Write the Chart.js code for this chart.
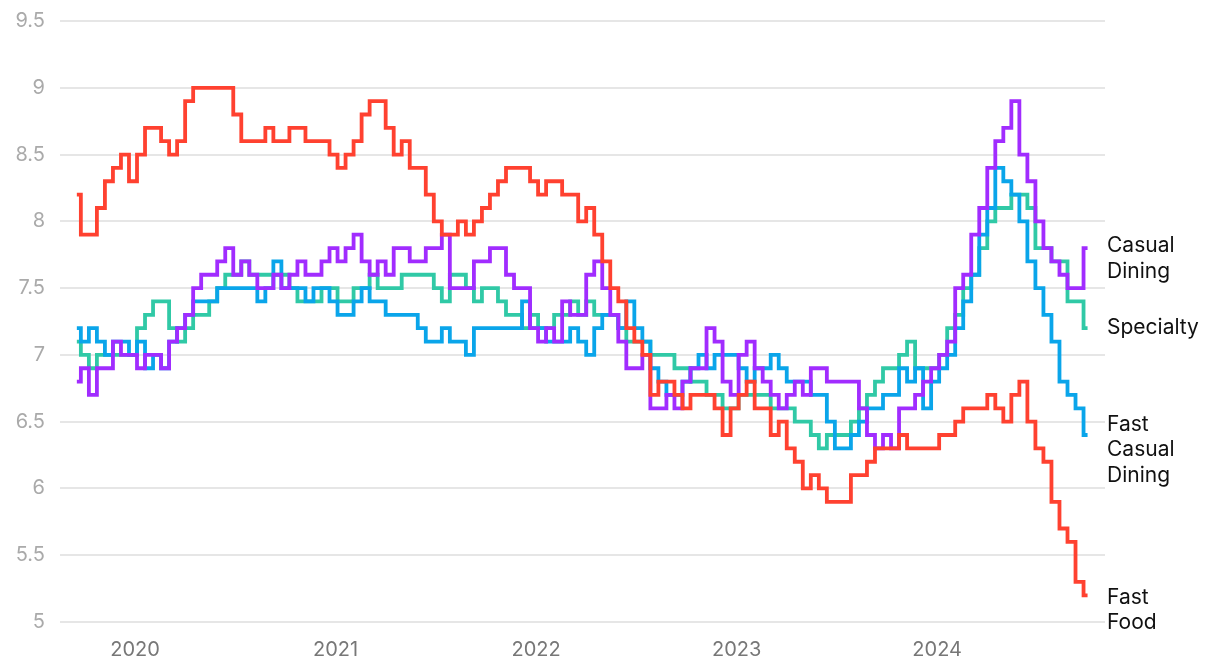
<!DOCTYPE html>
<html>
<head>
<meta charset="utf-8">
<script src="https://cdn.jsdelivr.net/npm/chart.js@4.4.1/dist/chart.umd.min.js"></script>
<style>
  html, body { margin: 0; padding: 0; background: #fff; }
  #wrap { width: 1220px; height: 668px; position: relative; }
</style>
</head>
<body>
<div id="wrap"><canvas id="c"></canvas></div>
<script>
// Sample timing (decimal years): first sample and spacing between samples
const startYear = 2019.71;
const stepYears = 0.04;

const yearTicks = [2020, 2021, 2022, 2023, 2024];
const yTickValues = [5, 5.5, 6, 6.5, 7, 7.5, 8, 8.5, 9, 9.5];

const seriesNames = ["Fast Food", "Casual Dining", "Fast Casual Dining", "Specialty"];

const fastFood = [
  8.2, 7.9, 7.9, 8.1, 8.3, 8.4, 8.5, 8.3, 8.5, 8.7,
  8.7, 8.6, 8.5, 8.6, 8.9, 9.0, 9.0, 9.0, 9.0, 9.0,
  8.8, 8.6, 8.6, 8.6, 8.7, 8.6, 8.6, 8.7, 8.7, 8.6,
  8.6, 8.6, 8.5, 8.4, 8.5, 8.6, 8.8, 8.9, 8.9, 8.7,
  8.5, 8.6, 8.4, 8.4, 8.2, 8.0, 7.9, 7.9, 8.0, 7.9,
  8.0, 8.1, 8.2, 8.3, 8.4, 8.4, 8.4, 8.3, 8.2, 8.3,
  8.3, 8.2, 8.2, 8.0, 8.1, 7.9, 7.7, 7.5, 7.4, 7.2,
  7.1, 7.0, 6.7, 6.8, 6.8, 6.7, 6.6, 6.7, 6.7, 6.7,
  6.6, 6.4, 6.6, 6.7, 6.8, 6.6, 6.6, 6.4, 6.5, 6.3,
  6.2, 6.0, 6.1, 6.0, 5.9, 5.9, 5.9, 6.1, 6.1, 6.2,
  6.3, 6.3, 6.3, 6.4, 6.3, 6.3, 6.3, 6.3, 6.4, 6.4,
  6.5, 6.6, 6.6, 6.6, 6.7, 6.6, 6.5, 6.7, 6.8, 6.5,
  6.3, 6.2, 5.9, 5.7, 5.6, 5.3, 5.2
];

const specialty = [
  7.1, 7.0, 6.9, 7.0, 7.0, 7.0, 7.0, 7.0, 7.2, 7.3,
  7.4, 7.4, 7.2, 7.1, 7.2, 7.3, 7.3, 7.4, 7.5, 7.6,
  7.6, 7.7, 7.6, 7.6, 7.6, 7.6, 7.6, 7.5, 7.4, 7.4,
  7.4, 7.5, 7.5, 7.4, 7.4, 7.5, 7.5, 7.6, 7.5, 7.5,
  7.5, 7.6, 7.6, 7.6, 7.6, 7.5, 7.4, 7.6, 7.6, 7.5,
  7.4, 7.5, 7.5, 7.4, 7.3, 7.3, 7.2, 7.3, 7.2, 7.2,
  7.3, 7.3, 7.4, 7.3, 7.4, 7.3, 7.3, 7.3, 7.2, 7.1,
  7.1, 7.1, 7.0, 7.0, 7.0, 6.9, 6.9, 6.8, 6.8, 6.7,
  6.7, 6.6, 6.6, 6.7, 6.7, 6.7, 6.7, 6.6, 6.6, 6.6,
  6.5, 6.5, 6.4, 6.3, 6.4, 6.4, 6.4, 6.5, 6.6, 6.7,
  6.8, 6.9, 6.9, 7.0, 7.1, 6.9, 6.9, 6.9, 7.0, 7.2,
  7.3, 7.5, 7.6, 7.8, 8.0, 8.1, 8.1, 8.2, 8.2, 8.1,
  7.8, 7.8, 7.7, 7.7, 7.4, 7.4, 7.2
];

const fastCasual = [
  7.2, 7.1, 7.2, 7.1, 7.0, 7.1, 7.1, 7.0, 7.1, 6.9,
  7.0, 6.9, 7.1, 7.2, 7.3, 7.4, 7.4, 7.4, 7.5, 7.5,
  7.5, 7.5, 7.5, 7.4, 7.5, 7.7, 7.5, 7.5, 7.5, 7.4,
  7.5, 7.5, 7.4, 7.3, 7.3, 7.4, 7.5, 7.4, 7.4, 7.3,
  7.3, 7.3, 7.3, 7.2, 7.1, 7.1, 7.2, 7.1, 7.1, 7.0,
  7.2, 7.2, 7.2, 7.2, 7.2, 7.2, 7.4, 7.2, 7.2, 7.1,
  7.1, 7.1, 7.2, 7.1, 7.0, 7.2, 7.3, 7.3, 7.2, 7.4,
  7.2, 7.1, 6.9, 6.8, 6.7, 6.7, 6.8, 6.9, 7.0, 6.9,
  7.0, 7.0, 7.0, 6.9, 6.8, 6.9, 6.9, 7.0, 6.9, 6.8,
  6.8, 6.8, 6.7, 6.7, 6.5, 6.3, 6.3, 6.4, 6.5, 6.6,
  6.6, 6.7, 6.7, 6.9, 6.8, 6.9, 6.6, 6.8, 6.9, 7.0,
  7.2, 7.4, 7.6, 7.9, 8.1, 8.4, 8.3, 8.2, 8.0, 7.7,
  7.5, 7.3, 7.1, 6.8, 6.7, 6.6, 6.4
];

const casualDining = [
  6.8, 6.9, 6.7, 6.9, 6.9, 7.1, 7.0, 7.0, 6.9, 7.0,
  7.0, 6.9, 7.1, 7.2, 7.3, 7.5, 7.6, 7.6, 7.7, 7.8,
  7.6, 7.7, 7.6, 7.5, 7.5, 7.6, 7.5, 7.6, 7.7, 7.6,
  7.6, 7.7, 7.8, 7.7, 7.8, 7.9, 7.7, 7.6, 7.7, 7.6,
  7.8, 7.8, 7.7, 7.7, 7.8, 7.8, 7.9, 7.5, 7.5, 7.5,
  7.7, 7.7, 7.8, 7.8, 7.6, 7.5, 7.5, 7.2, 7.1, 7.2,
  7.1, 7.4, 7.3, 7.3, 7.6, 7.7, 7.5, 7.3, 7.1, 6.9,
  6.9, 7.0, 6.6, 6.6, 6.7, 6.6, 6.8, 6.9, 6.9, 7.2,
  7.1, 6.8, 6.7, 7.0, 7.1, 6.9, 6.8, 6.7, 6.6, 6.7,
  6.8, 6.7, 6.9, 6.9, 6.8, 6.8, 6.8, 6.8, 6.6, 6.4,
  6.3, 6.4, 6.3, 6.6, 6.6, 6.7, 6.8, 6.9, 7.0, 7.1,
  7.5, 7.6, 7.9, 8.1, 8.4, 8.6, 8.7, 8.9, 8.5, 8.3,
  8.0, 7.8, 7.7, 7.6, 7.5, 7.5, 7.8
];

// End-label texts and the value each block is centred on
const endLabels = [
  { lines: ["Casual", "Dining"], at: 7.72 },
  { lines: ["Specialty"], at: 7.2 },
  { lines: ["Fast", "Casual", "Dining"], at: 6.29 },
  { lines: ["Fast", "Food"], at: 5.09 }
];

const colors = {
  "Fast Food": "#ff4130",
  "Casual Dining": "#a12cff",
  "Fast Casual Dining": "#0aa5ea",
  "Specialty": "#30c9a6"
};

function toPoints(arr) {
  return arr.map((v, i) => ({ x: startYear + i * stepYears, y: v }));
}

const FONT = "Inter, 'Noto Sans', 'DejaVu Sans', sans-serif";

const endLabelPlugin = {
  id: "endLabels",
  afterDraw(chart) {
    const ctx = chart.ctx;
    const y = chart.scales.y;
    const left = chart.chartArea.right + 2;
    ctx.save();
    ctx.font = "21px " + FONT;
    ctx.fillStyle = "#111";
    ctx.textAlign = "left";
    ctx.textBaseline = "middle";
    const lh = 25.5;
    endLabels.forEach(l => {
      const cy = y.getPixelForValue(l.at);
      const top = cy - (l.lines.length - 1) * lh / 2;
      l.lines.forEach((t, i) => ctx.fillText(t, left, top + i * lh));
    });
    ctx.restore();
  }
};

const datasets = [
  { label: "Fast Food", data: toPoints(fastFood), order: 0 },
  { label: "Casual Dining", data: toPoints(casualDining), order: 1 },
  { label: "Fast Casual Dining", data: toPoints(fastCasual), order: 2 },
  { label: "Specialty", data: toPoints(specialty), order: 3 }
].map(d => Object.assign(d, {
  borderColor: colors[d.label],
  backgroundColor: colors[d.label],
  borderWidth: 3.8,
  pointRadius: 0,
  stepped: "middle",
  fill: false,
  tension: 0,
  borderJoinStyle: "miter"
}));

new Chart(document.getElementById("c"), {
  type: "line",
  data: { datasets },
  options: {
    responsive: true,
    maintainAspectRatio: false,
    animation: false,
    layout: { padding: { top: 21, right: 115, left: 0, bottom: 0 } },
    plugins: { legend: { display: false }, tooltip: { enabled: false } },
    scales: {
      x: {
        type: "linear",
        min: 2019.626,
        max: 2024.837,
        afterBuildTicks(scale) { scale.ticks = yearTicks.map(v => ({ value: v })); },
        afterFit(scale) { scale.height = 46; scale.paddingLeft = 0; scale.paddingRight = 0; },
        grid: { display: false, drawTicks: false },
        border: { display: false },
        ticks: {
          padding: 16,
          color: "#777",
          font: { size: 20, family: FONT },
          maxRotation: 0,
          callback: v => String(v)
        }
      },
      y: {
        min: 5,
        max: 9.5,
        afterBuildTicks(scale) { scale.ticks = yTickValues.map(v => ({ value: v })); },
        afterFit(scale) { scale.width = 60; scale.paddingTop = 0; scale.paddingBottom = 0; },
        grid: { color: "#e6e6e6", lineWidth: 2, drawTicks: false },
        border: { display: false },
        ticks: {
          padding: 15,
          color: "#aaa",
          font: { size: 20, family: FONT },
          callback: v => String(v)
        }
      }
    }
  },
  plugins: [endLabelPlugin]
});
</script>
</body>
</html>
